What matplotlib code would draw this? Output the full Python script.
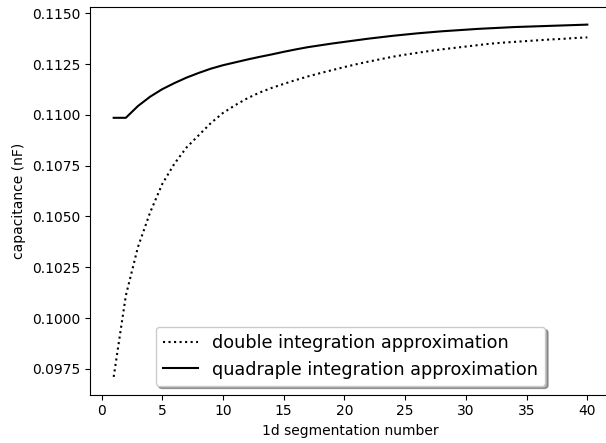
import numpy as np
import matplotlib
matplotlib.use('Agg')
import matplotlib.pyplot as plt

# segmentation numbers
seg_num = np.arange(1, 41)

# capacitance (nF)
cap_double = [
    0.09710, 0.10110, 0.10350, 0.10520, 0.10660, 0.10760, 0.10840, 0.10900,
    0.10960, 0.11010, 0.11048, 0.11082, 0.11110, 0.11133, 0.11153, 0.11172,
    0.11190, 0.11206, 0.11221, 0.11236, 0.11250, 0.11263, 0.11275, 0.11287,
    0.11297, 0.11306, 0.11315, 0.11323, 0.11330, 0.11337, 0.11344, 0.11351,
    0.11356, 0.11360, 0.11364, 0.11368, 0.11372, 0.11375, 0.11379, 0.11382,
]
cap_quad = [
    0.10986, 0.10986, 0.11044, 0.11090, 0.11127, 0.11157, 0.11184, 0.11207,
    0.11228, 0.11245, 0.11259, 0.11273, 0.11286, 0.11298, 0.11311, 0.11323,
    0.11334, 0.11343, 0.11352, 0.11360, 0.11368, 0.11376, 0.11383, 0.11390,
    0.11396, 0.11402, 0.11407, 0.11412, 0.11416, 0.11420, 0.11424, 0.11427,
    0.11430, 0.11433, 0.11435, 0.11437, 0.11439, 0.11441, 0.11443, 0.11445,
]

fig = plt.figure(figsize=(6.06, 4.43), dpi=100)
ax = fig.add_axes([90 / 606, 48.5 / 443, 521 / 606, 387.5 / 443])

ax.plot(seg_num, cap_double, 'k:', label='double integration approximation')
ax.plot(seg_num, cap_quad, 'k-', label='quadraple integration approximation')

ax.ticklabel_format(axis='y', useOffset=False)
ax.set_xticks(np.arange(0, 41, 5))
ax.set_xlabel('1d segmentation number')
ax.set_ylabel('capacitance (nF)')
ax.legend(loc='lower center', shadow=True, fontsize=12.7)

fig.savefig('out.png', dpi=100)
